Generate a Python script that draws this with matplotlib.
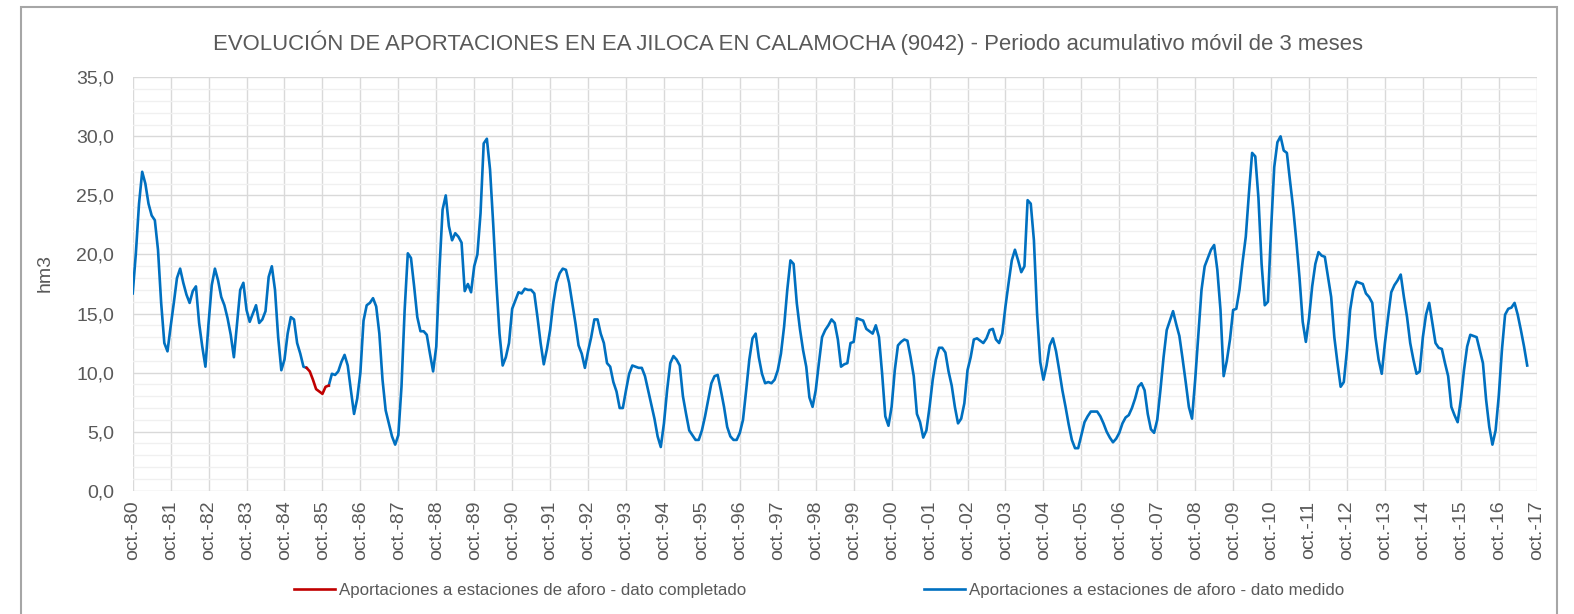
import numpy as np
import matplotlib
matplotlib.use('Agg')
import matplotlib.pyplot as plt
from matplotlib.lines import Line2D
from matplotlib.patches import Rectangle

plt.rcParams['font.family'] = ['Liberation Sans', 'DejaVu Sans']

# ---------------- data ----------------
anios = list(range(1980, 2018))
etiquetas_x = [f"oct.-{a % 100:02d}" for a in anios]
valores_y = [0, 5, 10, 15, 20, 25, 30, 35]
etiquetas_y = ["0,0", "5,0", "10,0", "15,0", "20,0", "25,0", "30,0", "35,0"]

# monthly values (hm3), moving 3-month accumulation, from oct-80
aportaciones = [
    16.7, 20.1, 24.3, 27.0, 26.0, 24.3, 23.3, 22.9, 20.4, 15.9, 12.5, 11.8,   # 80-81
    13.9, 15.9, 18.0, 18.8, 17.6, 16.6, 15.9, 16.9, 17.3, 14.2, 12.2, 10.5,   # 81-82
    14.2, 17.4, 18.8, 17.8, 16.4, 15.7, 14.6, 13.2, 11.3, 14.2, 17.0, 17.6,   # 82-83
    15.3, 14.3, 15.0, 15.7, 14.2, 14.5, 15.2, 18.1, 19.0, 17.0, 13.0, 10.2,   # 83-84
    11.1, 13.3, 14.7, 14.5, 12.5, 11.6, 10.5, 10.4, 10.1, 9.4, 8.6, 8.4,      # 84-85
    8.2, 8.8, 8.9, 9.9, 9.8, 10.1, 10.9, 11.5, 10.6, 8.5, 6.5, 7.8,           # 85-86
    10.0, 14.4, 15.7, 15.9, 16.3, 15.6, 13.3, 9.4, 6.8, 5.7, 4.6, 3.9,        # 86-87
    4.7, 8.8, 15.3, 20.1, 19.7, 17.3, 14.7, 13.5, 13.5, 13.2, 11.6, 10.1,     # 87-88
    12.2, 18.7, 23.8, 25.0, 22.4, 21.2, 21.8, 21.5, 21.0, 16.9, 17.5, 16.8,   # 88-89
    19.0, 20.0, 23.5, 29.4, 29.8, 27.2, 22.6, 17.6, 13.3, 10.6, 11.3, 12.5,   # 89-90
    15.4, 16.1, 16.8, 16.7, 17.1, 17.0, 17.0, 16.7, 14.7, 12.5, 10.7, 12.0,   # 90-91
    13.6, 15.9, 17.6, 18.4, 18.8, 18.7, 17.6, 15.9, 14.2, 12.3, 11.6, 10.4,   # 91-92
    11.8, 13.0, 14.5, 14.5, 13.3, 12.5, 10.8, 10.5, 9.2, 8.4, 7.0, 7.0,       # 92-93
    8.5, 9.9, 10.6, 10.5, 10.4, 10.4, 9.7, 8.5, 7.3, 6.1, 4.6, 3.7,           # 93-94
    5.7, 8.5, 10.8, 11.4, 11.1, 10.6, 8.0, 6.5, 5.1, 4.7, 4.3, 4.3,           # 94-95
    5.1, 6.3, 7.7, 9.1, 9.7, 9.8, 8.5, 7.1, 5.4, 4.6, 4.3, 4.3,               # 95-96
    4.9, 6.0, 8.5, 11.1, 12.9, 13.3, 11.3, 9.9, 9.1, 9.2, 9.1, 9.4,           # 96-97
    10.2, 11.6, 13.9, 17.0, 19.5, 19.2, 15.9, 13.7, 11.9, 10.5, 7.9, 7.1,     # 97-98
    8.5, 10.8, 13.0, 13.6, 14.0, 14.5, 14.2, 12.8, 10.5, 10.7, 10.8, 12.5,    # 98-99
    12.6, 14.6, 14.5, 14.4, 13.7, 13.5, 13.3, 14.0, 13.0, 9.9, 6.3, 5.5,      # 99-00
    7.1, 10.2, 12.3, 12.6, 12.8, 12.7, 11.3, 9.7, 6.5, 5.8, 4.5, 5.1,         # 00-01
    7.1, 9.4, 11.1, 12.1, 12.1, 11.7, 10.1, 8.9, 7.1, 5.7, 6.1, 7.4,          # 01-02
    10.2, 11.3, 12.8, 12.9, 12.7, 12.5, 12.9, 13.6, 13.7, 12.8, 12.5, 13.3,   # 02-03
    15.6, 17.6, 19.5, 20.4, 19.5, 18.5, 19.0, 24.6, 24.3, 21.2, 15.0, 10.9,   # 03-04
    9.4, 10.6, 12.3, 12.9, 11.8, 10.2, 8.5, 7.1, 5.6, 4.3, 3.6, 3.6,          # 04-05
    4.7, 5.8, 6.3, 6.7, 6.7, 6.7, 6.3, 5.7, 5.0, 4.5, 4.1, 4.4,               # 05-06
    4.9, 5.7, 6.2, 6.4, 7.0, 7.8, 8.8, 9.1, 8.5, 6.5, 5.2, 4.9,               # 06-07
    6.0, 8.5, 11.3, 13.6, 14.4, 15.2, 14.1, 13.1, 11.2, 9.2, 7.1, 6.1,        # 07-08
    9.4, 13.2, 17.0, 19.0, 19.7, 20.4, 20.8, 18.7, 15.3, 9.7, 11.0, 12.8,     # 08-09
    15.3, 15.4, 17.0, 19.4, 21.5, 25.2, 28.6, 28.3, 24.8, 19.2, 15.7, 16.0,   # 09-10
    22.1, 27.4, 29.5, 30.0, 28.8, 28.6, 26.2, 23.9, 21.1, 18.0, 14.3, 12.6,   # 10-11
    14.6, 17.3, 19.2, 20.2, 19.9, 19.8, 18.1, 16.4, 13.0, 10.8, 8.8, 9.2,     # 11-12
    11.9, 15.3, 17.0, 17.7, 17.6, 17.5, 16.7, 16.4, 15.9, 13.0, 11.1, 9.9,    # 12-13
    12.5, 14.7, 16.8, 17.4, 17.8, 18.3, 16.4, 14.7, 12.5, 11.1, 9.9, 10.1,    # 13-14
    13.0, 14.9, 15.9, 14.2, 12.5, 12.1, 12.0, 10.8, 9.7, 7.1, 6.4, 5.8,       # 14-15
    7.7, 10.2, 12.2, 13.2, 13.1, 13.0, 11.9, 10.8, 7.7, 5.4, 3.9, 5.1,        # 15-16
    8.0, 11.9, 14.9, 15.4, 15.5, 15.9, 14.9, 13.6, 12.2, 10.6,                # 16-17
]
# months (index from oct-80) covered by "dato completado"
inicio_completado = 55
fin_completado = 62

titulo = ("EVOLUCIÓN DE APORTACIONES EN EA JILOCA EN CALAMOCHA (9042) - "
          "Periodo acumulativo móvil de 3 meses")
etiqueta_rojo = "Aportaciones a estaciones de aforo - dato completado"
etiqueta_azul = "Aportaciones a estaciones de aforo - dato medido"

# ---------------- figure ----------------
W, H = 1574, 614
fig = plt.figure(figsize=(W / 100, H / 100), dpi=100)
L, R, T, B = 132.7, 1536.7, 77.3, 490.7
ax = fig.add_axes([L / W, 1 - B / H, (R - L) / W, (B - T) / H])

azul = '#0070C0'
rojo = '#C00000'
gris_txt = '#595959'

valores = np.array(aportaciones, dtype=float)
meses = np.arange(len(valores))
medido = valores.copy()
medido[inicio_completado + 1:fin_completado] = np.nan
completado = np.full_like(valores, np.nan)
completado[inicio_completado:fin_completado + 1] = valores[inicio_completado:fin_completado + 1]

ax.plot(meses, medido, color=azul, lw=1.9, solid_joinstyle='round', zorder=3)
ax.plot(meses, completado, color=rojo, lw=1.9, solid_joinstyle='round', zorder=4)

ax.set_xlim(0, 12 * (len(anios) - 1))
ax.set_ylim(0, 35)
ax.set_xticks(np.arange(len(anios)) * 12)
ax.set_xticklabels(etiquetas_x, rotation=90)
ax.set_yticks(valores_y)
ax.set_yticklabels(etiquetas_y)
ax.set_yticks(np.arange(0, 36, 1), minor=True)
ax.grid(which='major', color='#d9d9d9', lw=1.0)
ax.grid(which='minor', axis='y', color='#f0f0f0', lw=1.0)
ax.set_axisbelow(True)
for s in ax.spines.values():
    s.set_visible(False)
ax.tick_params(which='both', length=0)
ax.tick_params(axis='y', pad=13.5, labelsize=14, labelcolor=gris_txt)
ax.tick_params(axis='x', pad=7, labelsize=14, labelcolor=gris_txt)

fig.text(45 / W, 1 - 273 / H, 'hm3', rotation=90, ha='center', va='center',
         fontsize=14, color=gris_txt)
fig.text(788 / W, 1 - 43 / H, titulo, ha='center', va='center',
         fontsize=15.95, color=gris_txt)

handles = [Line2D([], [], color=rojo, lw=1.9), Line2D([], [], color=azul, lw=1.9)]
fig.legend(handles, [etiqueta_rojo, etiqueta_azul], ncol=2, loc='center',
           bbox_to_anchor=(819 / W, 1 - 590 / H), frameon=False, fontsize=12.2,
           handlelength=2.4, handletextpad=0.25, columnspacing=10.5,
           labelcolor=gris_txt)

fig.patches.append(Rectangle((21 / W, -0.02), (1556.7 - 21) / W, 1 - 7.3 / H + 0.02,
                             transform=fig.transFigure, fill=False,
                             edgecolor='#a6a6a6', lw=1.5))

fig.savefig('out.png', dpi=100)
